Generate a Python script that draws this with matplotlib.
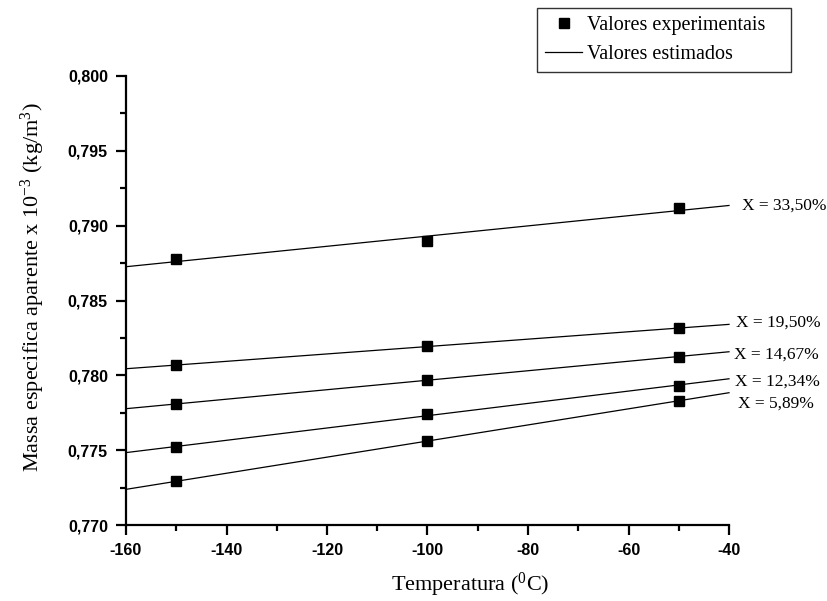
import numpy as np
import matplotlib
matplotlib.use("Agg")
import matplotlib.pyplot as plt
from matplotlib.ticker import MultipleLocator, FuncFormatter
import matplotlib.transforms as mtransforms

plt.rcParams['mathtext.fontset'] = 'custom'
plt.rcParams['mathtext.rm'] = 'Liberation Serif'
plt.rcParams['mathtext.it'] = 'Liberation Serif:italic'

temperatures = [-150, -100, -50]
series_labels = ["X = 33,50%", "X = 19,50%", "X = 14,67%", "X = 12,34%", "X = 5,89%"]
values_3350 = [0.78775, 0.7890, 0.79116]
values_1950 = [0.78067, 0.78196, 0.78314]
values_1467 = [0.77808, 0.77969, 0.78125]
values_1234 = [0.77519, 0.77742, 0.7793]
values_589 = [0.77292, 0.77561, 0.7783]
all_series = [values_3350, values_1950, values_1467, values_1234, values_589]

fit_range = [-160, -40]

W, H = 827, 601
fig = plt.figure(figsize=(W / 100, H / 100), dpi=100)
ax = fig.add_axes([126 / W, 1 - 525 / H, (729 - 126) / W, (525 - 76) / H])

serif = 'Liberation Serif'
label_offsets = [(13, 0), (7, 2), (5, -3), (6, -3), (9, -11)]  # pixels

xfit = np.array(fit_range, dtype=float)
for vals, lab, off in zip(all_series, series_labels, label_offsets):
    slope, icpt = np.polyfit(temperatures, vals, 1)
    yfit = slope * xfit + icpt
    ax.plot(xfit, yfit, color='black', lw=0.9, clip_on=False)
    ax.plot(temperatures, vals, 's', color='black', ms=7.2, clip_on=False)
    tr = ax.transData + mtransforms.ScaledTranslation(off[0] / 100, off[1] / 100, fig.dpi_scale_trans)
    ax.text(xfit[-1], yfit[-1], lab, transform=tr, ha='left', va='center',
            fontsize=12.5, family=serif, clip_on=False)

ax.set_xlim(-160, -40)
ax.set_ylim(0.770, 0.800)
ax.xaxis.set_major_locator(MultipleLocator(20))
ax.xaxis.set_minor_locator(MultipleLocator(10))
ax.yaxis.set_major_locator(MultipleLocator(0.005))
ax.yaxis.set_minor_locator(MultipleLocator(0.0025))
ax.yaxis.set_major_formatter(FuncFormatter(lambda v, p: f"{v:.3f}".replace('.', ',')))
ax.xaxis.set_major_formatter(FuncFormatter(lambda v, p: f"{v:.0f}"))

for s in ['top', 'right']:
    ax.spines[s].set_visible(False)
for s in ['left', 'bottom']:
    ax.spines[s].set_linewidth(1.6)

ax.tick_params(which='major', direction='out', length=7, width=1.6, labelsize=11.5, pad=6)
ax.tick_params(which='minor', direction='out', length=4, width=1.6)
for lbl in ax.get_xticklabels() + ax.get_yticklabels():
    lbl.set_fontfamily('Liberation Sans')
    lbl.set_fontweight('bold')

fig.text(470 / W, 1 - 585 / H, r'Temperatura ($^{0}$C)', ha='center', va='center',
         fontsize=16, family=serif)
fig.text(33 / W, 1 - 287 / H, r'Massa especifica aparente x 10$^{-3}$ (kg/m$^{3}$)',
         ha='center', va='center', rotation=90, fontsize=16, family=serif)

h1, = ax.plot([], [], 's', color='black', ms=7.2)
h2, = ax.plot([], [], '-', color='black', lw=0.9)
leg = fig.legend([h1, h2], ["Valores experimentais", "Valores estimados"],
                 loc='upper left', mode='expand',
                 bbox_to_anchor=(537 / W, 1 - 72 / H, 254 / W, 64 / H),
                 prop={'family': serif, 'size': 14.5}, frameon=True, fancybox=False,
                 edgecolor='black', handlelength=1.85, handletextpad=0.25,
                 borderpad=0.4, labelspacing=0.5, borderaxespad=0)
leg.get_frame().set_linewidth(1.0)

fig.savefig('out.png', dpi=100)
